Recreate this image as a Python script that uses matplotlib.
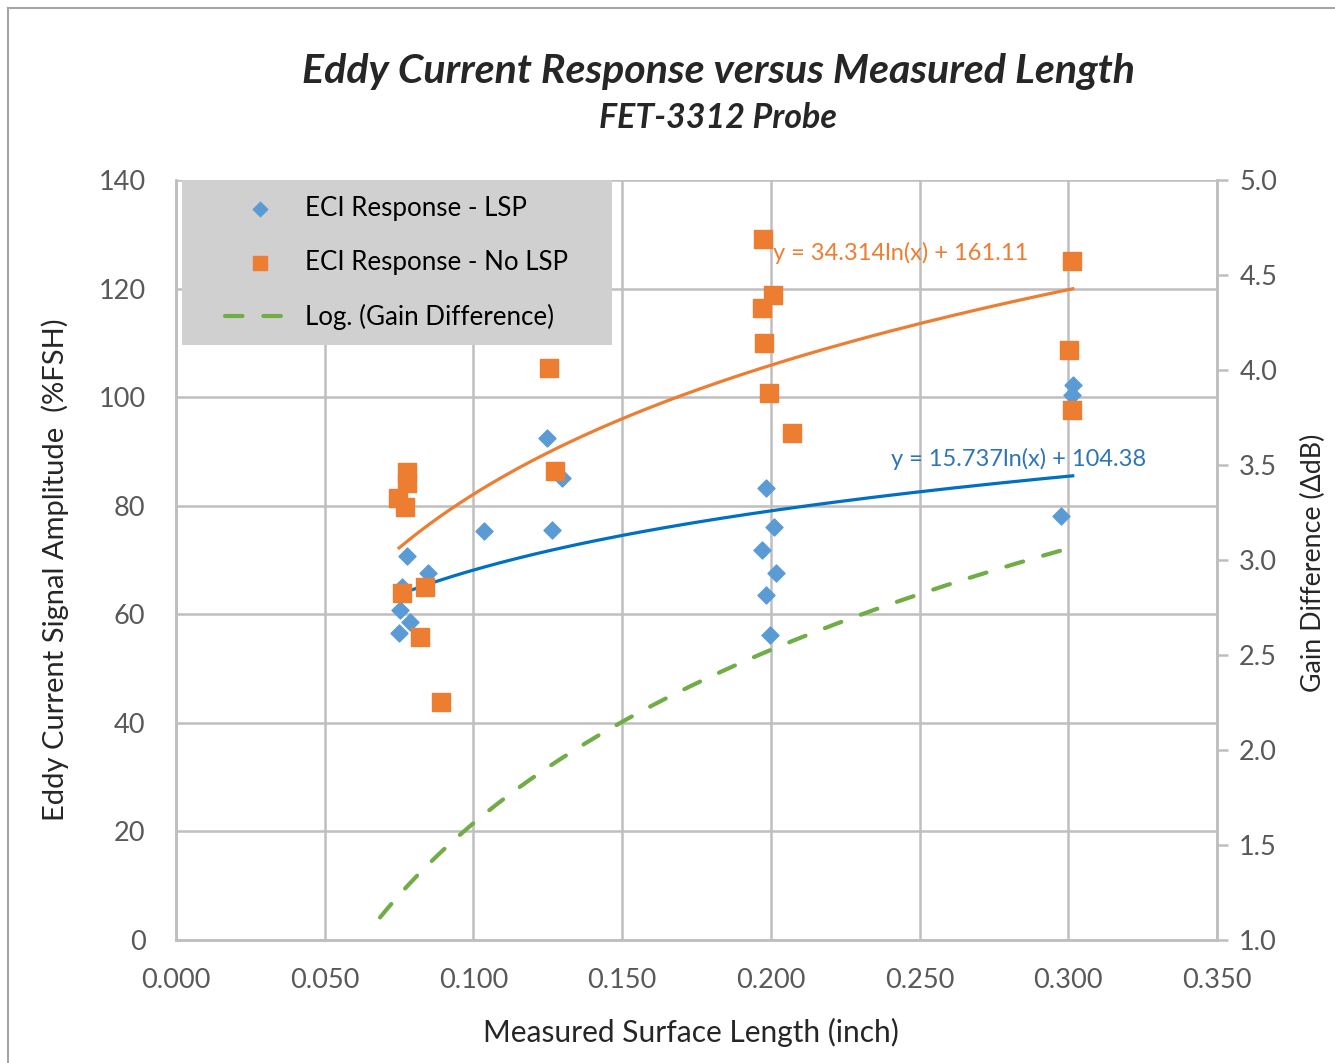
import matplotlib.pyplot as plt
from matplotlib.patches import Rectangle
import numpy as np

plt.rcParams['font.family'] = ['Lato', 'DejaVu Sans']

# ECI response with LSP (blue diamonds)
lsp_x = [0.0777, 0.1036, 0.0847, 0.0760, 0.0753, 0.0787, 0.0750,
         0.1248, 0.1298, 0.1264,
         0.1984, 0.2010, 0.1970, 0.2017, 0.1984, 0.1997,
         0.3016, 0.3012, 0.2975]
lsp_y = [70.7, 75.3, 67.6, 65.0, 60.8, 58.6, 56.6,
         92.5, 85.1, 75.5,
         83.3, 76.1, 71.8, 67.6, 63.6, 56.2,
         102.2, 100.4, 78.1]

# ECI response without LSP (orange squares)
nolsp_x = [0.0777, 0.0777, 0.0747, 0.0770, 0.0760, 0.0837, 0.0820, 0.0890,
           0.1254, 0.1274,
           0.1973, 0.2007, 0.1970, 0.1977, 0.1994, 0.2071,
           0.3012, 0.3002, 0.3012]
nolsp_y = [86.2, 84.2, 81.4, 79.8, 63.9, 65.0, 55.8, 43.8,
           105.4, 86.4,
           129.1, 118.8, 116.4, 110.0, 100.8, 93.4,
           125.1, 108.7, 97.6]

# log trend coefficients y = a*ln(x) + b
lsp_fit = (15.737, 104.38)
nolsp_fit = (34.314, 161.11)
gain_fit = (1.316, 4.645)
fit_range = (0.075, 0.3015)
gain_range = (0.0686, 0.2975)

blue = '#5B9BD5'
orange = '#ED7D31'
green = '#70AD47'
grid_c = '#BFBFBF'
tick_c = '#595959'
text_c = '#262626'

W, H = 1335, 1063
fig = plt.figure(figsize=(W/100, H/100), dpi=100)
ax = fig.add_axes([176/W, 1-940/H, (1217-176)/W, (940-180)/H])
ax2 = ax.twinx()

ax.scatter(lsp_x, lsp_y, marker='D', s=75, color=blue, zorder=3,
           label='ECI Response - LSP')
ax.scatter(nolsp_x, nolsp_y, marker='s', s=150, color=orange, zorder=3,
           label='ECI Response - No LSP')

xs = np.linspace(fit_range[0], fit_range[1], 200)
ax.plot(xs, nolsp_fit[0]*np.log(xs) + nolsp_fit[1], color=orange, lw=2.3, zorder=2)
ax.plot(xs, lsp_fit[0]*np.log(xs) + lsp_fit[1], color='#0070C0', lw=2.3, zorder=2)

xg = np.linspace(gain_range[0], gain_range[1], 200)
gline, = ax2.plot(xg, gain_fit[0]*np.log(xg) + gain_fit[1], color=green, lw=3,
                  dashes=(4.2, 5.0), dash_capstyle='round',
                  label='Log. (Gain Difference)')

ax.text(0.2007, 126.5, 'y = 34.314ln(x) + 161.11', color=orange, fontsize=17,
        ha='left', va='center')
ax.text(0.2404, 88.7, 'y = 15.737ln(x) + 104.38', color='#2E75B6', fontsize=17,
        ha='left', va='center')

ax.set_xlim(0, 0.35)
ax.set_ylim(0, 140)
ax2.set_ylim(1.0, 5.0)
ax.set_xticks(np.arange(0, 0.351, 0.05))
ax.set_yticks(np.arange(0, 141, 20))
ax2.set_yticks(np.arange(1.0, 5.01, 0.5))
ax.set_xticklabels(['%.3f' % v for v in np.arange(0, 0.351, 0.05)])
ax2.set_yticklabels(['%.1f' % v for v in np.arange(1.0, 5.01, 0.5)])

ax.grid(True, color=grid_c, lw=1.8)
ax.set_axisbelow(True)
for a in (ax, ax2):
    for s in a.spines.values():
        s.set_color(grid_c)
        s.set_linewidth(1.8)
ax.spines['top'].set_visible(False)
ax2.spines['top'].set_visible(False)
ax.tick_params(axis='both', length=0, labelsize=19.5, labelcolor=tick_c)
ax.tick_params(axis='y', pad=22)
ax.tick_params(axis='x', pad=20)
ax2.tick_params(axis='y', length=8, width=1.8, color=grid_c, direction='out',
                labelsize=19.5, labelcolor=tick_c, pad=8)

# axis titles
fig.text(691/W, 1-1032/H, 'Measured Surface Length (inch)', fontsize=21.5,
         color=text_c, ha='center', va='center')
fig.text(55/W, 1-570/H, 'Eddy Current Signal Amplitude  (%FSH)', fontsize=21,
         color=text_c, ha='center', va='center', rotation=90)
fig.text(1313/W, 1-563/H, 'Gain Difference (\u0394dB)', fontsize=19.3,
         color=text_c, ha='center', va='center', rotation=90)

# legend box
ax.add_patch(Rectangle(((182-176)/1041, (940-345)/760), (612-182)/1041, (345-180)/760,
                       transform=ax.transAxes, facecolor='#D0D0D0', edgecolor='none',
                       zorder=4))
h1, l1 = ax.get_legend_handles_labels()
leg = ax.legend(h1 + [gline], l1 + [gline.get_label()], loc='upper left',
                bbox_to_anchor=((225-176)/1041, (940-196)/760), fontsize=18.6,
                frameon=False, borderpad=0, labelspacing=1.12,
                handlelength=2.7, handletextpad=0.4, borderaxespad=0,
                markerscale=0.85)
leg.set_zorder(5)

fig.text(0.538, 1-72/H, 'Eddy Current Response versus Measured Length',
         fontsize=29.6, fontweight='bold', style='italic', ha='center', va='center',
         color=text_c)
fig.text(0.538, 1-118/H, 'FET-3312 Probe', fontsize=24.5, fontweight='bold',
         style='italic', ha='center', va='center', color=text_c)

# chart frame
fig.add_artist(plt.Line2D([8/W, 1], [1-8/H, 1-8/H], color='#A6A6A6', lw=1.5))
fig.add_artist(plt.Line2D([8/W, 8/W], [0, 1-8/H], color='#A6A6A6', lw=1.5))

fig.savefig('out.png', dpi=100)
